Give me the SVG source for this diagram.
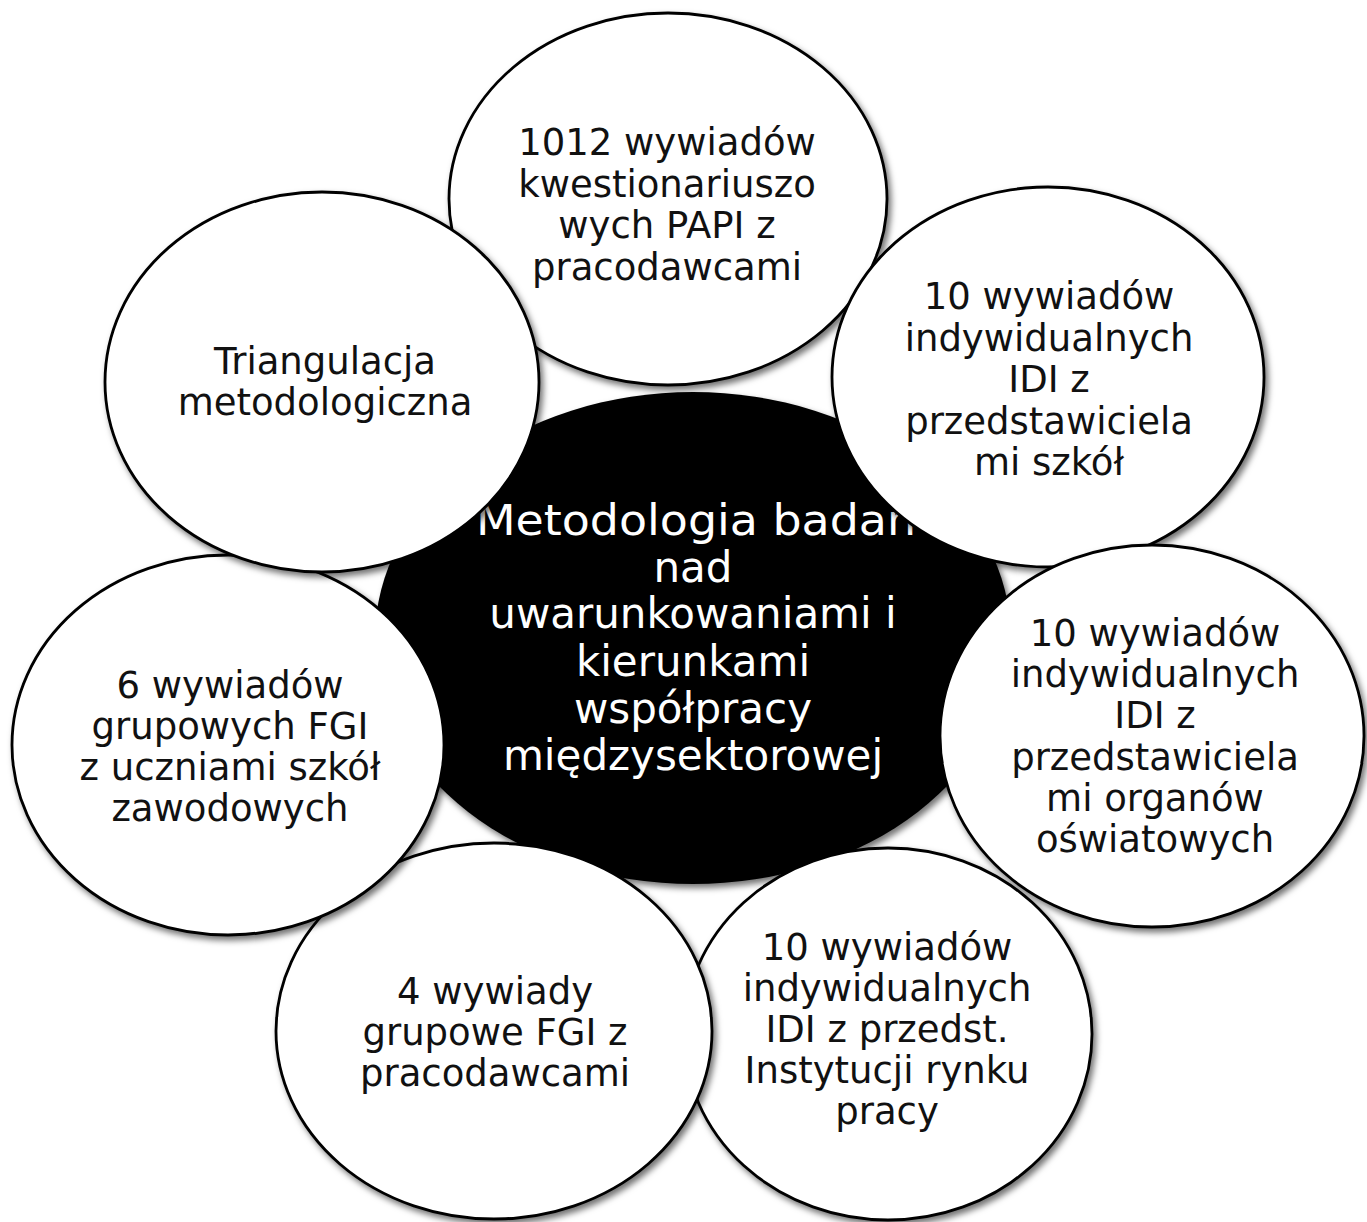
<svg xmlns="http://www.w3.org/2000/svg" width="1367" height="1222" viewBox="0 0 1367 1222">
<defs>
<filter id="sh" x="-10%" y="-10%" width="125%" height="125%">
<feDropShadow dx="3" dy="4" stdDeviation="3" flood-color="#000" flood-opacity="0.55"/>
</filter>
<style>
.sat{fill:#fff;stroke:#000;stroke-width:2.8;filter:url(#sh)}
.ctr{fill:#000;stroke:none;filter:url(#sh)}
.t{font-family:"DejaVu Sans","Liberation Sans",sans-serif;font-size:37px;fill:#111;text-anchor:middle}
.tc{font-family:"DejaVu Sans","Liberation Sans",sans-serif;font-size:42px;fill:#fff;text-anchor:middle}
</style>
</defs>
<rect width="1367" height="1222" fill="#fff"/>
<g id="connectors"></g>
<g id="center">
<ellipse class="ctr" cx="693" cy="638" rx="318" ry="246"/>
<text class="tc" x="696" y="535" textLength="440" lengthAdjust="spacingAndGlyphs">Metodologia badań</text>
<text class="tc" x="693" y="582">nad</text>
<text class="tc" x="693" y="628">uwarunkowaniami i</text>
<text class="tc" x="693" y="676">kierunkami</text>
<text class="tc" x="693" y="723">współpracy</text>
<text class="tc" x="693" y="770">międzysektorowej</text>
</g>
<g id="n1">
<ellipse class="sat" cx="668" cy="199" rx="219" ry="186"/>
<text class="t" x="667" y="155">1012 wywiadów</text>
<text class="t" x="667" y="197">kwestionariuszo</text>
<text class="t" x="667" y="238">wych PAPI z</text>
<text class="t" x="667" y="280">pracodawcami</text>
</g>
<g id="n2">
<ellipse class="sat" cx="1048" cy="377" rx="216" ry="190"/>
<text class="t" x="1049" y="309">10 wywiadów</text>
<text class="t" x="1049" y="351">indywidualnych</text>
<text class="t" x="1049" y="392">IDI z</text>
<text class="t" x="1049" y="434">przedstawiciela</text>
<text class="t" x="1049" y="475">mi szkół</text>
</g>
<g id="n3">
<ellipse class="sat" cx="1152" cy="736" rx="212" ry="191"/>
<text class="t" x="1155" y="646">10 wywiadów</text>
<text class="t" x="1155" y="687">indywidualnych</text>
<text class="t" x="1155" y="728">IDI z</text>
<text class="t" x="1155" y="770">przedstawiciela</text>
<text class="t" x="1155" y="811">mi organów</text>
<text class="t" x="1155" y="852">oświatowych</text>
</g>
<g id="n4">
<ellipse class="sat" cx="888" cy="1034" rx="204" ry="186"/>
<text class="t" x="887" y="960">10 wywiadów</text>
<text class="t" x="887" y="1001">indywidualnych</text>
<text class="t" x="887" y="1042">IDI z przedst.</text>
<text class="t" x="887" y="1083">Instytucji rynku</text>
<text class="t" x="887" y="1124">pracy</text>
</g>
<g id="n5">
<ellipse class="sat" cx="494" cy="1031" rx="218" ry="188"/>
<text class="t" x="495" y="1004">4 wywiady</text>
<text class="t" x="495" y="1045">grupowe FGI z</text>
<text class="t" x="495" y="1086">pracodawcami</text>
</g>
<g id="n6">
<ellipse class="sat" cx="228" cy="745" rx="216" ry="190"/>
<text class="t" x="230" y="698">6 wywiadów</text>
<text class="t" x="230" y="739">grupowych FGI</text>
<text class="t" x="230" y="780">z uczniami szkół</text>
<text class="t" x="230" y="821">zawodowych</text>
</g>
<g id="n7">
<ellipse class="sat" cx="322" cy="382" rx="217" ry="190"/>
<text class="t" x="325" y="374">Triangulacja</text>
<text class="t" x="325" y="415">metodologiczna</text>
</g>
</svg>
